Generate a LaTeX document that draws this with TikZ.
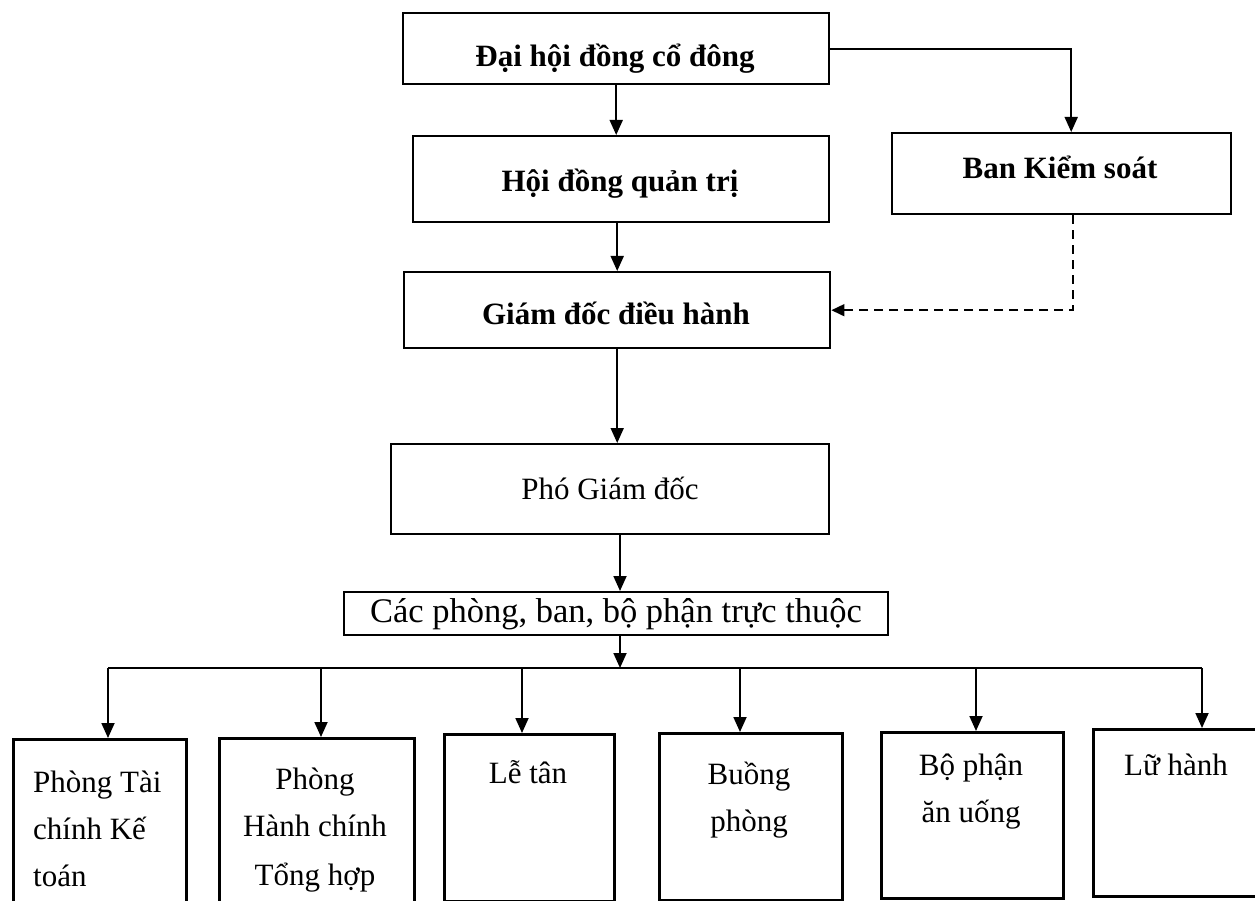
\documentclass[tikz,border=0pt]{standalone}
\usepackage{fontspec}
\setmainfont{Liberation Serif}
\usetikzlibrary{arrows.meta,calc}
\tikzset{
  topbox/.style={draw=black, line width=2.4pt, rectangle, inner sep=0pt, anchor=north west},
  lowbox/.style={draw=black, line width=3pt, rectangle, inner sep=0pt, anchor=north west},
  lbl/.style={anchor=base, inner sep=0pt, font=\fontsize{31}{37}\selectfont},
  blbl/.style={lbl, font=\fontsize{31}{37}\selectfont\bfseries},
  arr/.style={line width=1.8pt, -{Triangle[length=15pt,width=13pt]}},
  plain/.style={line width=1.8pt},
  dasharr/.style={line width=1.6pt, dash pattern=on 9pt off 6pt, -{Triangle[length=13pt,width=12pt]}}
}
\begin{document}
\begin{tikzpicture}[x=1pt,y=-1pt]
\path[use as bounding box, fill=white] (0,0) rectangle (1255,901);
\clip (0,0) rectangle (1255,901);

% top boxes
\node[topbox, minimum width=426pt, minimum height=71pt] (dh) at (402,12) {};
\node[blbl] (dht) at (615,67) {Đại hội đồng cổ đông};

\node[topbox, minimum width=416pt, minimum height=86pt] (hd) at (412,135) {};
\node[blbl] (hdt) at (620,192) {Hội đồng quản trị};

\node[topbox, minimum width=339pt, minimum height=81pt] (bks) at (891,132) {};
\node[blbl] (bkst) at (1060,179) {Ban Kiểm soát};

\node[topbox, minimum width=426pt, minimum height=76pt] (gd) at (403,271) {};
\node[blbl] (gdt) at (616,324) {Giám đốc điều hành};

\node[topbox, minimum width=438pt, minimum height=90pt] (pgd) at (390,443) {};
\node[lbl] (pgdt) at (610,499) {Phó Giám đốc};

\node[topbox, minimum width=544pt, minimum height=43pt] (cp) at (343,591) {};
\node[lbl, font=\fontsize{34.5}{40}\selectfont] (cpt) at (616,622) {Các phòng, ban, bộ phận trực thuộc};

% bottom boxes
\node[lowbox, minimum width=173pt, minimum height=175pt] (b1) at (12,738) {};
\node[lbl, anchor=base west] (b1a) at (33,792) {Phòng Tài};
\node[lbl, anchor=base west] (b1b) at (33,839) {chính Kế};
\node[lbl, anchor=base west] (b1c) at (33,886) {toán};

\node[lowbox, minimum width=195pt, minimum height=175pt] (b2) at (218,737) {};
\node[lbl] (b2a) at (315,789) {Phòng};
\node[lbl] (b2b) at (315,836) {Hành chính};
\node[lbl] (b2c) at (315,885) {Tổng hợp};

\node[lowbox, minimum width=170pt, minimum height=167pt] (b3) at (443,733) {};
\node[lbl] (b3a) at (528,783) {Lễ tân};

\node[lowbox, minimum width=183pt, minimum height=167pt] (b4) at (658,732) {};
\node[lbl] (b4a) at (749,784) {Buồng};
\node[lbl] (b4b) at (749,831) {phòng};

\node[lowbox, minimum width=182pt, minimum height=166pt] (b5) at (880,731) {};
\node[lbl] (b5a) at (971,775) {Bộ phận};
\node[lbl] (b5b) at (971,822) {ăn uống};

\node[lowbox, minimum width=175pt, minimum height=167pt] (b6) at (1092,728) {};
\node[lbl] (b6a) at (1176,775) {Lữ hành};

% connectors
\draw[arr] (dh.south) -- (dh.south |- hd.north);
\draw[arr] (dh.east) -| ([xshift=9.5pt]bks.north);
\draw[arr] ([xshift=-4pt]hd.south) -- ([xshift=-4pt]hd.south |- gd.north);
\draw[dasharr] ([xshift=11.5pt]bks.south) |- (gd.east);
\draw[arr] (gd.south) -- (gd.south |- pgd.north);
\coordinate (ax) at (620,0);
\draw[arr] (pgd.south -| ax) -- (cp.north -| ax);

\coordinate (busL) at (108,668);
\coordinate (busR) at (1202,668);
\draw[arr] (cp.south -| ax) -- (ax |- busL);
\draw[plain] (busL) -- (busR);
\coordinate (d2) at (321,668);
\coordinate (d3) at (522,668);
\coordinate (d4) at (740,668);
\coordinate (d5) at (976,668);
\draw[arr] (busL) -- (busL |- b1.north);
\draw[arr] (d2) -- (d2 |- b2.north);
\draw[arr] (d3) -- (d3 |- b3.north);
\draw[arr] (d4) -- (d4 |- b4.north);
\draw[arr] (d5) -- (d5 |- b5.north);
\draw[arr] (busR) -- (busR |- b6.north);
\end{tikzpicture}
\end{document}
